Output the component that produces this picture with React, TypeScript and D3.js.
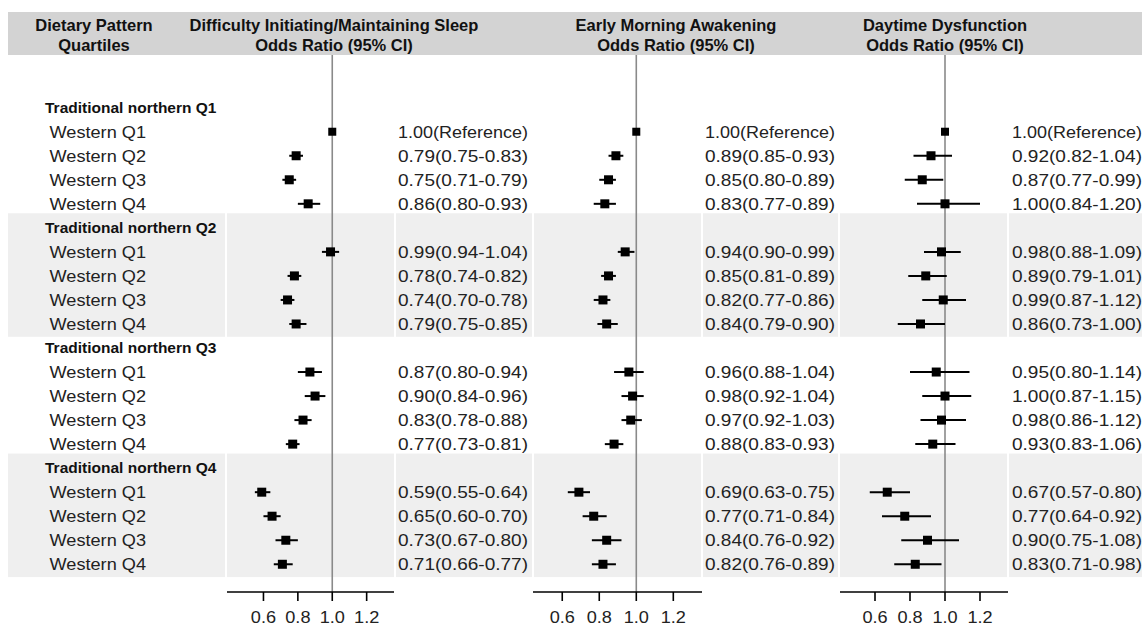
import React from "react";
import * as d3 from "d3";

// ---------- data ----------
const groupLabels = [
  "Traditional northern Q1",
  "Traditional northern Q2",
  "Traditional northern Q3",
  "Traditional northern Q4",
];
const subLabels = ["Western Q1", "Western Q2", "Western Q3", "Western Q4"];

const headerTitles = [
  ["Dietary Pattern", "Quartiles"],
  ["Difficulty Initiating/Maintaining Sleep", "Odds Ratio (95% CI)"],
  ["Early Morning Awakening", "Odds Ratio (95% CI)"],
  ["Daytime Dysfunction", "Odds Ratio (95% CI)"],
];

// Difficulty Initiating/Maintaining Sleep
const dimsOR = [1.0, 0.79, 0.75, 0.86, 0.99, 0.78, 0.74, 0.79, 0.87, 0.9, 0.83, 0.77, 0.59, 0.65, 0.73, 0.71];
const dimsLow = [null, 0.75, 0.71, 0.8, 0.94, 0.74, 0.7, 0.75, 0.8, 0.84, 0.78, 0.73, 0.55, 0.6, 0.67, 0.66];
const dimsHigh = [null, 0.83, 0.79, 0.93, 1.04, 0.82, 0.78, 0.85, 0.94, 0.96, 0.88, 0.81, 0.64, 0.7, 0.8, 0.77];

// Early Morning Awakening
const emaOR = [1.0, 0.89, 0.85, 0.83, 0.94, 0.85, 0.82, 0.84, 0.96, 0.98, 0.97, 0.88, 0.69, 0.77, 0.84, 0.82];
const emaLow = [null, 0.85, 0.8, 0.77, 0.9, 0.81, 0.77, 0.79, 0.88, 0.92, 0.92, 0.83, 0.63, 0.71, 0.76, 0.76];
const emaHigh = [null, 0.93, 0.89, 0.89, 0.99, 0.89, 0.86, 0.9, 1.04, 1.04, 1.03, 0.93, 0.75, 0.84, 0.92, 0.89];

// Daytime Dysfunction
const ddOR = [1.0, 0.92, 0.87, 1.0, 0.98, 0.89, 0.99, 0.86, 0.95, 1.0, 0.98, 0.93, 0.67, 0.77, 0.9, 0.83];
const ddLow = [null, 0.82, 0.77, 0.84, 0.88, 0.79, 0.87, 0.73, 0.8, 0.87, 0.86, 0.83, 0.57, 0.64, 0.75, 0.71];
const ddHigh = [null, 1.04, 0.99, 1.2, 1.09, 1.01, 1.12, 1.0, 1.14, 1.15, 1.12, 1.06, 0.8, 0.92, 1.08, 0.98];

const tickValues = [0.6, 0.8, 1.0, 1.2];
const tickLabels = ["0.6", "0.8", "1.0", "1.2"];
const xLimits = [
  [0.388, 1.359],
  [0.442, 1.355],
  [0.4, 1.36],
];

// ---------- layout ----------
const W = 1142;
const H = 626;
const FONT = "'Liberation Sans', Arial, Helvetica, sans-serif";

const panelRanges = [
  [227, 394],
  [533, 702],
  [840, 1008],
];
const textStarts = [398, 705, 1012];
const headerCenters = [94, 334, 676, 945];
const bandSegments = [
  [8, 225],
  [227, 394],
  [396, 532],
  [534, 701],
  [703, 838],
  [840, 1007],
  [1009, 1142],
];

const nRows = groupLabels.length * (subLabels.length + 1);
const rowY = d3.scaleLinear().domain([0, nRows - 1]).range([107.7, 107.7 + 24.03 * (nRows - 1)]);
const axisY = 592;
const refTop = 55;

const outcomes = [
  { est: dimsOR, lo: dimsLow, hi: dimsHigh },
  { est: emaOR, lo: emaLow, hi: emaHigh },
  { est: ddOR, lo: ddLow, hi: ddHigh },
];

function fmt(v: number) {
  return v.toFixed(2);
}

export default function App() {
  const scales = panelRanges.map((r, i) => d3.scaleLinear().domain(xLimits[i]).range(r));

  const rows: { kind: "group" | "sub"; label: string; idx: number; g: number; data?: number }[] = [];
  groupLabels.forEach((gl, g) => {
    rows.push({ kind: "group", label: gl, idx: rows.length, g });
    subLabels.forEach((sl, j) => {
      rows.push({ kind: "sub", label: sl, idx: rows.length, g, data: g * subLabels.length + j });
    });
  });

  const shadedGroups = [1, 3];
  const per = subLabels.length + 1;

  return (
    <svg
      width={W}
      height={H}
      style={{ position: "absolute", left: 0, top: 0, background: "#fff" }}
      fontFamily={FONT}
    >
      <rect x={0} y={0} width={W} height={H} fill="#ffffff" />
      {/* header band */}
      <rect x={8} y={12} width={W - 8} height={43} fill="#d3d3d3" />
      {headerTitles.map((t, i) => (
        <g key={"h" + i}>
          <text x={headerCenters[i]} y={30.5} textAnchor="middle" fontSize={16.5} fontWeight="bold" fill="#111">
            {t[0]}
          </text>
          <text x={headerCenters[i]} y={50.5} textAnchor="middle" fontSize={16.5} fontWeight="bold" fill="#111">
            {t[1]}
          </text>
        </g>
      ))}

      {/* shaded group bands */}
      {shadedGroups.map((g) => {
        const y0 = rowY(g * per) - 14.6;
        const y1 = rowY(g * per + per - 1) + 12.8;
        return bandSegments.map((s, k) => (
          <rect key={"b" + g + "-" + k} x={s[0]} y={y0} width={s[1] - s[0]} height={y1 - y0} fill="#efefef" />
        ));
      })}

      {/* reference lines */}
      {scales.map((sc, p) => (
        <line key={"ref" + p} x1={sc(1)} x2={sc(1)} y1={refTop} y2={axisY} stroke="#8a8a8a" strokeWidth={1.6} />
      ))}

      {/* row labels */}
      {rows.map((r) =>
        r.kind === "group" ? (
          <text
            key={"rl" + r.idx}
            x={45}
            y={rowY(r.idx) + 5.2}
            fontSize={14.5}
            fontWeight="bold"
            fill="#111"
            textLength={171.5}
            lengthAdjust="spacingAndGlyphs"
          >
            {r.label}
          </text>
        ) : (
          <text
            key={"rl" + r.idx}
            x={49.5}
            y={rowY(r.idx) + 6}
            fontSize={16.5}
            fill="#222"
            textLength={96.5}
            lengthAdjust="spacingAndGlyphs"
          >
            {r.label}
          </text>
        )
      )}

      {/* forest marks and value text */}
      {outcomes.map((o, p) => {
        const sc = scales[p];
        return (
          <g key={"p" + p}>
            {rows
              .filter((r) => r.kind === "sub")
              .map((r) => {
                const d = r.data as number;
                const y = rowY(r.idx);
                const est = o.est[d];
                const lo = o.lo[d];
                const hi = o.hi[d];
                const isRef = lo === null || hi === null;
                const size = isRef ? 8 : 9;
                const label = isRef ? `${fmt(est)}(Reference)` : `${fmt(est)}(${fmt(lo as number)}-${fmt(hi as number)})`;
                return (
                  <g key={"m" + p + "-" + r.idx}>
                    {!isRef && (
                      <line x1={sc(lo as number)} x2={sc(hi as number)} y1={y} y2={y} stroke="#000" strokeWidth={2} />
                    )}
                    <rect x={sc(est) - size / 2} y={y - size / 2} width={size} height={size} fill="#000" />
                    <text
                      x={textStarts[p]}
                      y={y + 6}
                      fontSize={16.5}
                      fill="#222"
                      textLength={130}
                      lengthAdjust="spacingAndGlyphs"
                    >
                      {label}
                    </text>
                  </g>
                );
              })}
            {/* axis */}
            <line x1={panelRanges[p][0]} x2={panelRanges[p][1]} y1={axisY} y2={axisY} stroke="#000" strokeWidth={1.6} />
            {tickValues.map((t, k) => (
              <g key={"t" + k}>
                <line x1={sc(t)} x2={sc(t)} y1={axisY} y2={axisY + 9} stroke="#000" strokeWidth={1.6} />
                <text
                  transform={`translate(${sc(t)},${623.3}) scale(1.1,1)`}
                  textAnchor="middle"
                  fontSize={16.5}
                  fill="#222"
                >
                  {tickLabels[k]}
                </text>
              </g>
            ))}
          </g>
        );
      })}
    </svg>
  );
}
